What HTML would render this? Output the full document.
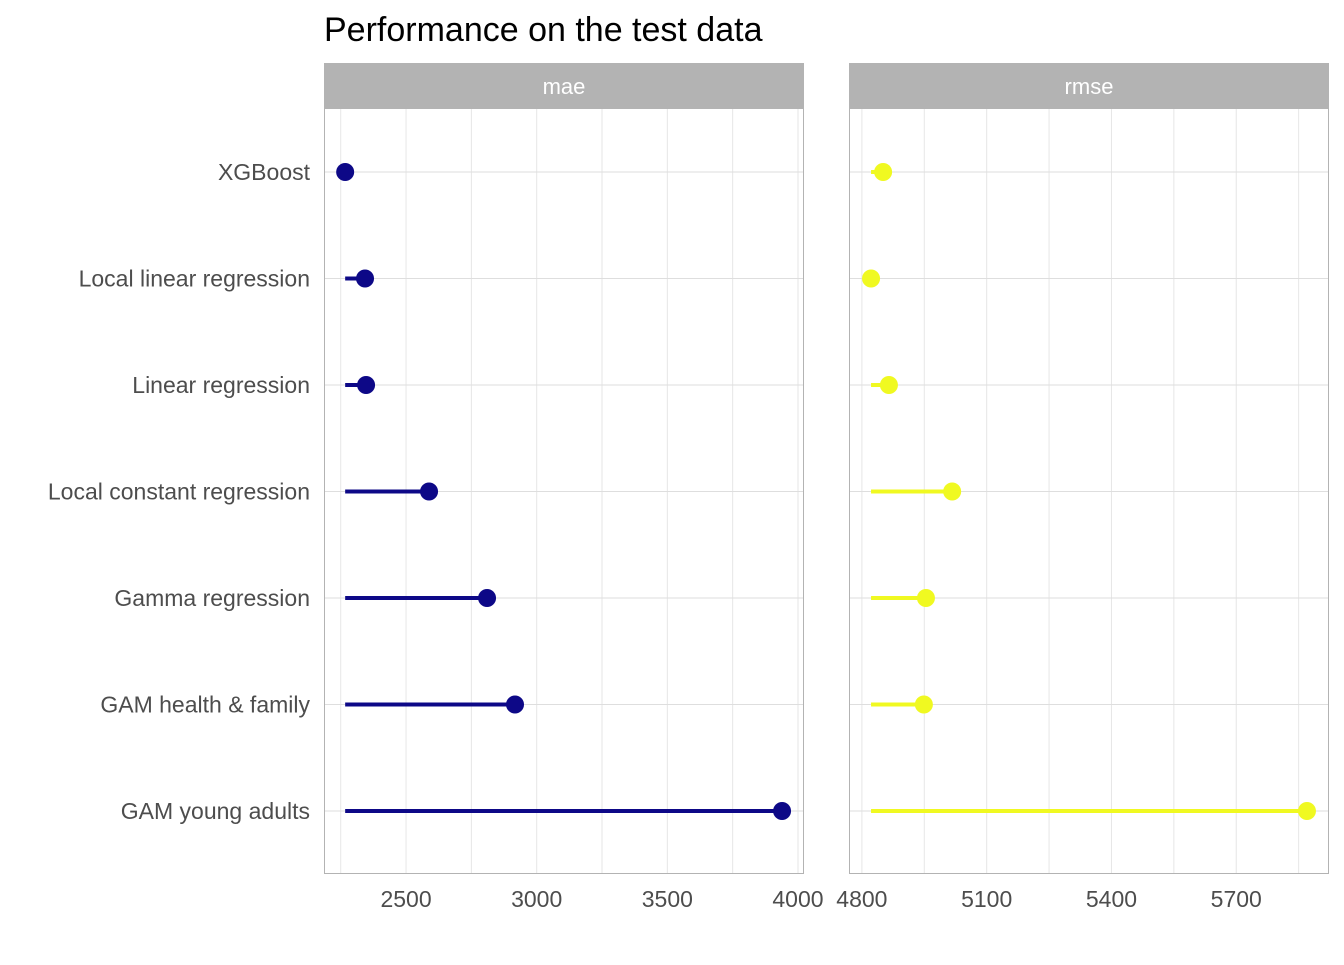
<!DOCTYPE html>
<html><head><meta charset="utf-8"><style>
body{margin:0;background:#fff;}
text{font-family:"Liberation Sans",sans-serif;}
</style></head><body>
<svg id="chart" width="1344" height="960" xmlns="http://www.w3.org/2000/svg">
<text x="324" y="41" font-size="34" fill="#000">Performance on the test data</text>
<g id="g"></g>
</svg>
<script>
const categories=["XGBoost","Local linear regression","Linear regression","Local constant regression","Gamma regression","GAM health & family","GAM young adults"];
const maeValues=[2267,2343,2347,2588,2810,2917,3939];
const rmseValues=[4851,4822,4865,5017,4954,4949,5870];
const maeTicks=[2500,3000,3500,4000];
const rmseTicks=[4800,5100,5400,5700];
const NS="http://www.w3.org/2000/svg";
const g=document.getElementById('g');
function mk(t,a,p){const e=document.createElementNS(NS,t);for(const k in a)e.setAttribute(k,a[k]);(p||g).appendChild(e);return e;}
const rowY=i=>172+i*106.5;
const panels=[
 {name:"mae",x0:324,x1:804,d0:2186,d1:4023,vals:maeValues,ticks:maeTicks,color:"#0d0887"},
 {name:"rmse",x0:849,x1:1329,d0:4769,d1:5923,vals:rmseValues,ticks:rmseTicks,color:"#f0f921"}
];
panels.forEach(p=>{
 const sx=v=>p.x0+(v-p.d0)/(p.d1-p.d0)*(p.x1-p.x0);
 const grp=mk('g',{});
 
 
 const strip=mk('rect',{x:p.x0,y:63,width:p.x1-p.x0,height:45,fill:'#b3b3b3'},grp);
 
 
 const st=mk('text',{x:(p.x0+p.x1)/2,y:94,'font-size':22,fill:'#fff','text-anchor':'middle'},grp);
 st.textContent=p.name;
 
 
 const step=p.ticks[1]-p.ticks[0];
 for(let v=p.ticks[0]-step*1.5;v<=p.d1;v+=step/2){
   if(v<p.d0)continue;
   mk('line',{x1:sx(v),x2:sx(v),y1:108,y2:873,stroke:'#e6e6e6','stroke-width':1},grp);
 }
 categories.forEach((c,i)=>mk('line',{x1:p.x0,x2:p.x1,y1:rowY(i),y2:rowY(i),stroke:'#dedede','stroke-width':1},grp));
 p.ticks.forEach(t=>{
   const tx=mk('text',{x:sx(t),y:907,'font-size':23,fill:'#4d4d4d','text-anchor':'middle'},grp);
   tx.textContent=t;
   
   
 });
 const mn=Math.min(...p.vals);
 p.vals.forEach((v,i)=>{
   const ln=mk('line',{x1:sx(mn),x2:sx(v),y1:rowY(i),y2:rowY(i),stroke:p.color,'stroke-width':4},grp);
   
   
   const ci=mk('circle',{cx:sx(v),cy:rowY(i),r:9,fill:p.color},grp);
   
   
 });
 mk('rect',{x:p.x0+0.5,y:108.5,width:p.x1-p.x0-1,height:765,fill:'none',stroke:'#b3b3b3','stroke-width':1},grp);
});
categories.forEach((c,i)=>{
 const t=mk('text',{x:310,y:rowY(i)+8,'font-size':23,fill:'#4d4d4d','text-anchor':'end'});
 t.textContent=c;
 
 
});
</script>
</body></html>
